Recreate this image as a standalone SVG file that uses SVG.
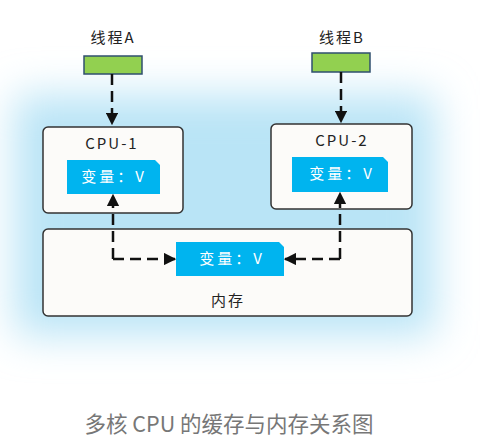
<svg xmlns="http://www.w3.org/2000/svg" width="480" height="447" viewBox="0 0 480 447">
<defs>
<filter id="glow" x="-30%" y="-30%" width="160%" height="160%"><feGaussianBlur stdDeviation="20"/></filter>
<marker id="ah" viewBox="0 0 10 10" refX="9" refY="5" markerWidth="5" markerHeight="5" orient="auto"><path d="M0,0 L10,5 L0,10 z" fill="#111"/></marker>
<style>
.lbl{font-family:"Noto Sans CJK SC","Noto Sans",sans-serif;font-size:15px;fill:#222;text-anchor:middle;letter-spacing:2px}
.box{fill:#fcfbf9;stroke:#333;stroke-width:1.5}
.thr{fill:#92d050;stroke:#2f4f6f;stroke-width:1.5}
.var{fill:#00b4ef}
.vt{font-family:"Noto Sans CJK SC","Noto Sans",sans-serif;font-size:15px;fill:#fff;text-anchor:middle;letter-spacing:3px}
.dash{fill:none;stroke:#111;stroke-width:2.5;stroke-dasharray:11,6}
.cap{font-family:"Noto Sans CJK SC","Noto Sans",sans-serif;font-size:21.5px;fill:#777;text-anchor:middle}
</style>
</defs>
<rect x="15" y="95" width="420" height="240" fill="#b9e4f6" filter="url(#glow)"/>
<g id="threadA"><text class="lbl" x="113" y="43">线程A</text><rect class="thr" x="84" y="56" width="58" height="18"/></g>
<g id="threadB"><text class="lbl" x="342" y="43">线程B</text><rect class="thr" x="312" y="53" width="58" height="19"/></g>
<g id="cpu1"><rect class="box" x="43" y="127" width="140" height="86" rx="5"/><text class="lbl" x="112" y="149">CPU-1</text>
<path class="var" d="M67,160 H155 L160,165 V194 H67 z"/><text class="vt" x="114" y="182">变量：V</text></g>
<g id="cpu2"><rect class="box" x="271" y="124" width="141" height="85" rx="5"/><text class="lbl" x="342" y="146">CPU-2</text>
<path class="var" d="M292,157 H383 L388,162 V192 H292 z"/><text class="vt" x="342" y="179">变量：V</text></g>
<g id="memory"><rect class="box" x="43" y="229" width="369" height="87" rx="5"/>
<path class="var" d="M176,242 H279 L284,247 V276 H176 z"/><text class="vt" x="232" y="264">变量：V</text>
<text class="lbl" x="228" y="306">内存</text></g>
<g id="connectors">
<path class="dash" d="M112,74 V124" marker-end="url(#ah)"/>
<path class="dash" d="M341,72 V122" marker-end="url(#ah)"/>
<path class="dash" d="M113,259 V195" marker-end="url(#ah)"/>
<path class="dash" d="M113,259 H175" marker-end="url(#ah)"/>
<path class="dash" d="M340,259 V193" marker-end="url(#ah)"/>
<path class="dash" d="M340,259 H285" marker-end="url(#ah)"/>
</g>
<text class="cap" x="229" y="432">多核 CPU 的缓存与内存关系图</text>
</svg>
